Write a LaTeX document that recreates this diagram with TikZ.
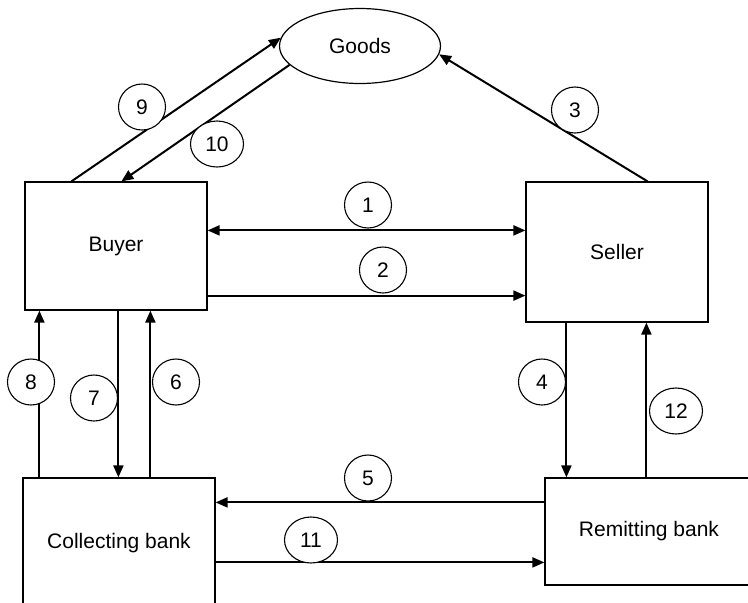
\documentclass[tikz,border=0pt]{standalone}
\usepackage{fontspec}
\setmainfont{Liberation Sans}
\usetikzlibrary{arrows.meta,shapes.geometric}

\begin{document}
\begin{tikzpicture}[x=1pt,y=-1pt,
    font=\fontsize{21}{25}\selectfont,
    party/.style={draw, line width=1.2pt, rectangle, inner sep=0pt},
    num/.style={draw, line width=1.1pt, ellipse, minimum width=47pt, minimum height=46pt, inner sep=0pt},
    wide/.style={num, minimum width=53pt},
    flow/.style={line width=2pt, -{Triangle[length=12pt,width=10pt]}},
    both/.style={line width=2pt, {Triangle[length=12pt,width=10pt]}-{Triangle[length=12pt,width=10pt]}}]
    \clip (0,0) rectangle (748,603);
    % parties
    \node[draw, ellipse, line width=1.2pt, minimum width=161pt, minimum height=75pt] (goods) at (360,46) {Goods};
    \node[party, minimum width=182pt, minimum height=128pt] (buyer) at (116,246) {Buyer};
    \node[party, minimum width=182pt, minimum height=140pt] (seller) at (617,252) {Seller};
    \node[party, minimum width=192pt, minimum height=130pt] (coll) at (119,543) {Collecting bank};
    \node[party, minimum width=208pt, minimum height=107pt] (remit) at (649,531.5) {Remitting bank};
    % connector ends
    \coordinate (c1) at ([yshift=-49pt]buyer.north east);
    \coordinate (c2) at ([yshift=15pt]buyer.south east);
    \coordinate (c5) at ([yshift=-25pt]remit.north west);
    \coordinate (c11) at ([yshift=-85pt]coll.north east);
    \coordinate (c4) at ([xshift=41pt]seller.south west);
    \coordinate (c12) at ([xshift=121pt]seller.south west);
    \coordinate (c8) at ([xshift=17pt]coll.north west);
    \coordinate (c7) at ([xshift=94pt]buyer.south west);
    \coordinate (c6) at ([xshift=126pt]buyer.south west);
    \coordinate (c9) at ([xshift=47pt]buyer.north west);
    \coordinate (c10) at ([xshift=97pt]buyer.north west);
    \coordinate (c3) at ([xshift=-61pt]seller.north east);
    % flows
    \draw[both] (c1) -- (c1 -| seller.west);
    \draw[flow] (c2) -- (c2 -| seller.west);
    \draw[flow] (c3) -- (goods.354);
    \draw[flow] (c4) -- (c4 |- remit.north);
    \draw[flow] (c5) -- (c5 -| coll.east);
    \draw[flow] (c6 |- coll.north) -- (c6);
    \draw[flow] (c7) -- (c7 |- coll.north);
    \draw[flow] (c8) -- (c8 |- buyer.south);
    \draw[flow] (c9) -- (goods.174);
    \draw[flow] (goods.195) -- (c10);
    \draw[flow] (c11) -- (c11 -| remit.west);
    \draw[flow] (c12 |- remit.north) -- (c12);
    % step numbers
    \node[num, fill=white] (n1) at (368,205) {1};
    \node[num, fill=white] (n2) at (383,270) {2};
    \node[num, fill=white] (n3) at (575,110) {3};
    \node[num, fill=white] (n4) at (542,382) {4};
    \node[num, fill=white] (n5) at (368,478) {5};
    \node[num, fill=white] (n6) at (176,382) {6};
    \node[num, fill=white] (n7) at (94,398) {7};
    \node[num, fill=white] (n8) at (31,382) {8};
    \node[num, fill=white] (n9) at (142,107) {9};
    \node[wide, fill=white] (n10) at (217,144) {10};
    \node[wide, fill=white] (n11) at (311,540) {11};
    \node[wide, fill=white] (n12) at (676,411) {12};
\end{tikzpicture}
\end{document}
